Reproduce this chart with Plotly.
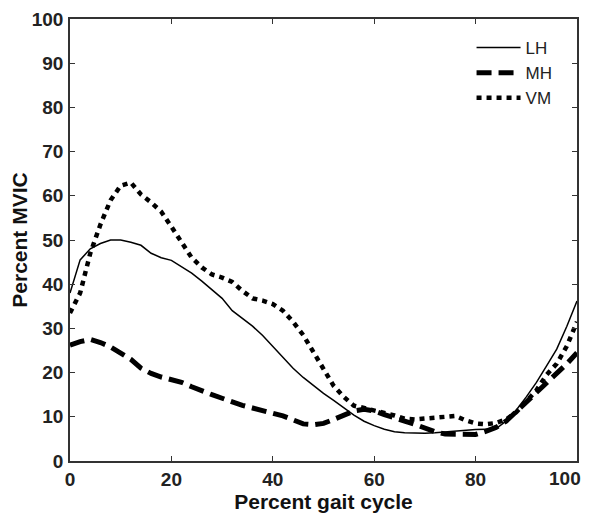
import plotly.graph_objects as go

x_pct = list(range(0, 101, 2))

lh = [38, 45.5, 48, 49.2, 50, 50, 49.5, 48.8, 47, 46, 45.4, 44, 42.5, 40.7, 38.8, 36.8,
      34, 32.2, 30.5, 28.4, 26, 23.6, 21, 18.9, 17, 15.3, 13.7, 12, 10.4, 9, 8, 7.2,
      6.6, 6.4, 6.3, 6.3, 6.4, 6.6, 6.8, 7, 7.1, 7.2, 7.3, 9, 11.5, 14.5, 17.8, 21.5,
      25.3, 30.5, 36.2]

mh = [26.2, 27, 27.5, 26.8, 25.8, 24.5, 23, 21, 19.8, 19, 18.5, 17.8, 16.8, 15.8, 15,
      14.2, 13.3, 12.6, 12, 11.3, 10.8, 10.2, 9.2, 8.4, 8.2, 8.5, 9.4, 10.5, 11.3, 11.7,
      11.3, 10.5, 9.6, 9, 8.3, 7.3, 6.6, 6.1, 6, 6, 6, 6.7, 7.6, 9, 11.2, 13.3, 15.3,
      17.6, 19.8, 22, 24.5]

vm = [33.5, 38, 47, 53.5, 59, 62.3, 63, 60.3, 58.5, 56.4, 53, 49.5, 46, 43.8, 42.2,
      41.5, 40.5, 38.5, 36.8, 36.3, 35.5, 34, 31.5, 28.5, 24.5, 20.5, 17, 14.5, 12.5,
      12, 11.5, 10.8, 10.3, 9.6, 9.4, 9.6, 9.8, 10, 10.2, 9.2, 8.5, 8.3, 8.6, 9.4, 11,
      13.5, 16, 19.5, 22, 26, 31.5]

x_ticks = [0, 20, 40, 60, 80, 100]
x_tick_labels = ["0", "20", "40", "60", "80", "100"]
y_ticks = [0, 10, 20, 30, 40, 50, 60, 70, 80, 90, 100]

FONT = "Liberation Sans, Arial"
TICKFONT = dict(family=FONT, size=19, color="#222222", weight="bold")

fig = go.Figure()
fig.add_trace(go.Scatter(x=x_pct, y=lh, name="LH", mode="lines",
                         line=dict(color="black", width=1.5)))
fig.add_trace(go.Scatter(x=x_pct, y=mh, name="MH", mode="lines",
                         line=dict(color="black", width=5, dash="15px,7px")))
fig.add_trace(go.Scatter(x=x_pct, y=vm, name="VM", mode="lines",
                         line=dict(color="black", width=4.5, dash="5px,5px")))

axis_common = dict(showline=True, linecolor="#333333", linewidth=1.5, mirror="ticks",
                   ticks="inside", ticklen=5, tickcolor="#333333", tickwidth=1,
                   showgrid=False, zeroline=False, automargin=False,
                   ticklabeloverflow="allow", tickfont=TICKFONT)

# the last x tick label sits at the right edge of the page; it is drawn as an
# annotation nudged left so that it stays inside the window (as in the reference)
fig.update_xaxes(range=[0, 100], tickvals=x_ticks,
                 ticktext=x_tick_labels[:-1] + [""],
                 title=dict(text="Percent gait cycle", standoff=2,
                            font=dict(family=FONT, size=21, color="#111111", weight="bold")),
                 **axis_common)
fig.update_yaxes(range=[0, 100], tickvals=y_ticks, ticklabelstandoff=1,
                 title=dict(text="Percent MVIC", standoff=1,
                            font=dict(family=FONT, size=21, color="#111111", weight="bold")),
                 **axis_common)

fig.add_annotation(x=x_ticks[-1], y=0, xref="x", yref="y", text=x_tick_labels[-1],
                   showarrow=False, font=TICKFONT, xanchor="center", yanchor="top",
                   xshift=-12, yshift=-5)

fig.update_layout(
    width=582, height=506,
    margin=dict(l=62, r=13, t=11, b=53),
    paper_bgcolor="white", plot_bgcolor="white",
    showlegend=True,
    legend=dict(x=0.792, y=0.975, xanchor="left", yanchor="top",
                bgcolor="rgba(0,0,0,0)", borderwidth=0, itemwidth=44,
                font=dict(family=FONT, size=17, color="#222222"),
                tracegroupgap=0),
)

fig.write_html("out.html")
